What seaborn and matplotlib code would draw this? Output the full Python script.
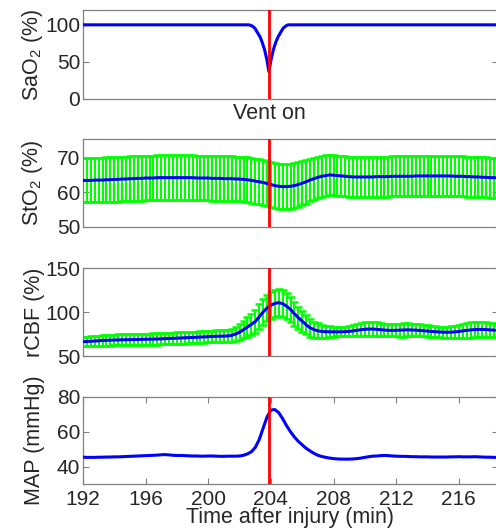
import numpy as np
import matplotlib
matplotlib.use("Agg")
import matplotlib.pyplot as plt
import seaborn as sns

# time grid for the averaged traces (min after injury)
t = np.arange(192, 218.51, 0.25)
vent_on = 203.87

# SaO2 trace (own, denser points around the dip)
t_sao2 = [192, 202.6, 202.8, 202.97, 203.3, 203.45, 203.6, 203.75, 203.87,
          204.0, 204.15, 204.3, 204.46, 204.78, 204.95, 205.1, 218.5]
sao2 = [100, 100, 98.5, 95.5, 84, 76, 66, 52, 37,
        52, 66, 76, 84, 95.5, 98.5, 100, 100]

sto2_mean = [
    63.5, 63.5, 63.5, 63.6, 63.6, 63.6, 63.7, 63.7,
    63.8, 63.8, 63.9, 63.9, 64.0, 64.0, 64.1, 64.1,
    64.2, 64.2, 64.2, 64.3, 64.3, 64.3, 64.3, 64.3,
    64.3, 64.3, 64.3, 64.3, 64.3, 64.2, 64.2, 64.2,
    64.2, 64.1, 64.1, 64.1, 64.0, 64.0, 64.0, 63.9,
    63.9, 63.8, 63.7, 63.5, 63.3, 63.1, 62.9, 62.6,
    62.3, 62.0, 61.8, 61.7, 61.7, 61.8, 62.0, 62.3,
    62.7, 63.1, 63.6, 64.0, 64.4, 64.7, 64.9, 65.1,
    65.0, 64.9, 64.8, 64.7, 64.6, 64.5, 64.5, 64.5,
    64.5, 64.5, 64.5, 64.6, 64.6, 64.6, 64.6, 64.7,
    64.7, 64.7, 64.7, 64.7, 64.7, 64.8, 64.8, 64.8,
    64.8, 64.8, 64.8, 64.8, 64.8, 64.8, 64.8, 64.7,
    64.7, 64.7, 64.6, 64.6, 64.5, 64.5, 64.4, 64.4,
    64.3, 64.3, 64.2]
sto2_err = [
    6.4, 6.4, 6.4, 6.4, 6.5, 6.5, 6.5, 6.5,
    6.5, 6.5, 6.5, 6.5, 6.5, 6.5, 6.5, 6.5,
    6.5, 6.5, 6.5, 6.5, 6.5, 6.5, 6.5, 6.5,
    6.5, 6.5, 6.5, 6.5, 6.5, 6.5, 6.5, 6.5,
    6.5, 6.5, 6.5, 6.5, 6.5, 6.5, 6.5, 6.5,
    6.5, 6.5, 6.5, 6.5, 6.5, 6.5, 6.5, 6.6,
    6.6, 6.6, 6.6, 6.6, 6.6, 6.6, 6.5, 6.5,
    6.4, 6.3, 6.2, 6.1, 6.0, 5.9, 5.9, 5.8,
    5.8, 5.8, 5.8, 5.8, 5.8, 5.8, 5.8, 5.8,
    5.8, 5.8, 5.8, 5.8, 5.8, 5.8, 5.8, 5.8,
    5.8, 5.8, 5.8, 5.8, 5.8, 5.8, 5.8, 5.8,
    5.8, 5.8, 5.8, 5.8, 5.8, 5.8, 5.8, 5.8,
    5.8, 5.8, 5.8, 5.8, 5.8, 5.8, 5.8, 5.8,
    5.8, 5.8, 5.8]

rcbf_mean = [
    66.3, 66.5, 66.8, 67.0, 67.3, 67.6, 67.8, 68.0,
    68.2, 68.3, 68.4, 68.5, 68.6, 68.7, 68.8, 68.9,
    69.0, 69.1, 69.2, 69.3, 69.5, 69.7, 69.9, 70.1,
    70.3, 70.5, 70.7, 70.9, 71.1, 71.3, 71.5, 71.7,
    72.0, 72.2, 72.4, 72.5, 72.6, 72.8, 73.5, 75.0,
    77.0, 79.8, 83.0, 86.0, 89.0, 94.5, 100.0, 104.5,
    107.5, 109.8, 110.6, 109.5, 106.5, 103.0, 98.0, 93.5,
    89.5, 85.5, 82.0, 80.0, 78.6, 77.9, 77.6, 77.5,
    77.5, 77.5, 77.5, 77.7, 78.0, 78.5, 79.2, 79.9,
    80.4, 80.6, 80.6, 80.3, 79.9, 79.5, 79.2, 79.1,
    79.2, 79.4, 79.6, 79.7, 79.6, 79.4, 79.1, 78.7,
    78.3, 77.9, 77.6, 77.3, 77.1, 77.0, 77.1, 77.4,
    77.9, 78.5, 79.1, 79.6, 80.0, 80.2, 80.2, 80.0,
    79.7, 79.4, 79.1]
rcbf_err = [
    5.5, 5.5, 5.6, 5.7, 5.8, 6.0, 6.2, 6.2,
    6.2, 6.2, 6.3, 6.3, 6.3, 6.3, 6.3, 6.4,
    6.4, 6.4, 6.4, 6.4, 6.4, 6.5, 6.5, 6.5,
    6.5, 6.5, 6.5, 6.5, 6.5, 6.5, 6.5, 6.5,
    6.5, 6.5, 6.6, 6.7, 6.8, 7.0, 7.5, 8.0,
    8.8, 9.8, 11.0, 12.2, 13.3, 14.2, 14.8, 15.2,
    15.4, 15.5, 15.4, 15.2, 14.8, 14.2, 13.5, 12.6,
    11.7, 10.8, 10.0, 9.2, 8.4, 7.6, 6.8, 6.2,
    5.6, 5.3, 5.2, 5.4, 5.8, 6.3, 6.9, 7.4,
    7.8, 8.0, 8.0, 7.8, 7.4, 7.0, 6.8, 6.8,
    7.0, 7.3, 7.5, 7.5, 7.3, 7.0, 6.7, 6.5,
    6.4, 6.3, 6.2, 6.2, 6.3, 6.5, 6.8, 7.2,
    7.6, 8.0, 8.4, 8.6, 8.7, 8.7, 8.6, 8.4,
    8.2, 8.0, 7.8]

map_mean = [
    45.4, 45.3, 45.3, 45.3, 45.4, 45.4, 45.5, 45.5,
    45.6, 45.6, 45.7, 45.8, 45.9, 46.0, 46.1, 46.2,
    46.3, 46.4, 46.5, 46.6, 46.8, 46.9, 46.7, 46.5,
    46.4, 46.4, 46.3, 46.2, 46.1, 46.1, 46.0, 46.0,
    46.1, 46.1, 46.0, 45.9, 45.9, 46.0, 46.0, 46.0,
    46.1, 46.5, 47.3, 48.5, 51.0, 55.5, 62.0, 68.5,
    72.5, 72.8, 71.0, 67.5, 63.5, 60.0, 57.0, 54.5,
    52.5, 50.5, 49.0, 47.6, 46.5, 45.8, 45.3, 44.9,
    44.6, 44.4, 44.3, 44.3, 44.3, 44.4, 44.6, 44.9,
    45.3, 45.7, 46.0, 46.1, 46.3, 46.4, 46.3, 46.1,
    46.0, 45.9, 45.9, 45.8, 45.7, 45.7, 45.6, 45.6,
    45.6, 45.5, 45.5, 45.5, 45.5, 45.5, 45.6, 45.6,
    45.7, 45.6, 45.6, 45.6, 45.7, 45.6, 45.5, 45.4,
    45.4, 45.3, 45.3]

xticks = [192, 196, 200, 204, 208, 212, 216]

sns.set_style("white")
plt.rcParams['font.family'] = ['Liberation Sans', 'DejaVu Sans']
plt.rcParams['mathtext.fontset'] = 'custom'
plt.rcParams['mathtext.rm'] = 'Liberation Sans'
plt.rcParams['mathtext.it'] = 'Liberation Sans'

fig = plt.figure(figsize=(4.96, 5.32), dpi=100)
left, width = 83 / 496, 415 / 496
boxes = [(10, 99), (139, 227), (268, 356), (397, 484)]
axes = [fig.add_axes([left, 1 - b / 532, width, (b - tp) / 532]) for tp, b in boxes]

blue = '#0000ff'
green = '#00ff00'
grey = '#808080'

ax1, ax2, ax3, ax4 = axes
sns.lineplot(x=t_sao2, y=sao2, ax=ax1, color=blue, lw=2.2, zorder=3)
ax1.set_ylim(0, 120)
ax1.set_yticks([0, 50, 100])
ax1.set_ylabel('SaO$_2$ (%)')
ax1.text(vent_on, -0.05, 'Vent on', transform=ax1.get_xaxis_transform(),
         ha='center', va='top', fontsize=15.5)

ax2.errorbar(t, sto2_mean, yerr=sto2_err, fmt='none', ecolor=green,
             elinewidth=1.5, capsize=2.6, capthick=1.8, zorder=2)
sns.lineplot(x=t, y=sto2_mean, ax=ax2, color=blue, lw=2.2, zorder=3)
ax2.set_ylim(50, 75.5)
ax2.set_yticks([50, 60, 70])
ax2.set_ylabel('StO$_2$ (%)')

ax3.errorbar(t, rcbf_mean, yerr=rcbf_err, fmt='none', ecolor=green,
             elinewidth=1.5, capsize=2.6, capthick=1.8, zorder=2)
sns.lineplot(x=t, y=rcbf_mean, ax=ax3, color=blue, lw=2.2, zorder=3)
ax3.set_ylim(50, 150)
ax3.set_yticks([50, 100, 150])
ax3.set_ylabel('rCBF (%)')

sns.lineplot(x=t, y=map_mean, ax=ax4, color=blue, lw=2.2, zorder=3)
ax4.set_ylim(30, 80)
ax4.set_yticks([40, 60, 80])
ax4.set_ylabel('MAP (mmHg)')
ax4.set_xlabel('Time after injury (min)', fontsize=15.5, labelpad=-1)

for i, ax in enumerate(axes):
    ax.set_xlim(192, 218.5)
    ax.axvline(vent_on, color='#ff0000', lw=2.0, zorder=4)
    for s in ax.spines.values():
        s.set_visible(True)
        s.set_color(grey)
        s.set_linewidth(0.9)
    ax.tick_params(axis='y', direction='in', length=4, width=0.8, color=grey,
                   left=True, right=True, labelsize=15, pad=2)
    ax.yaxis.set_label_coords(-0.092, 0.5)
    ax.yaxis.label.set_size(15.5)
    if i < 3:
        ax.set_xticks([])
    else:
        ax.set_xticks(xticks)
        ax.tick_params(axis='x', direction='in', length=4, width=0.8, color=grey,
                       bottom=True, top=True, labelsize=15, pad=4)

fig.savefig('out.png', dpi=100)
